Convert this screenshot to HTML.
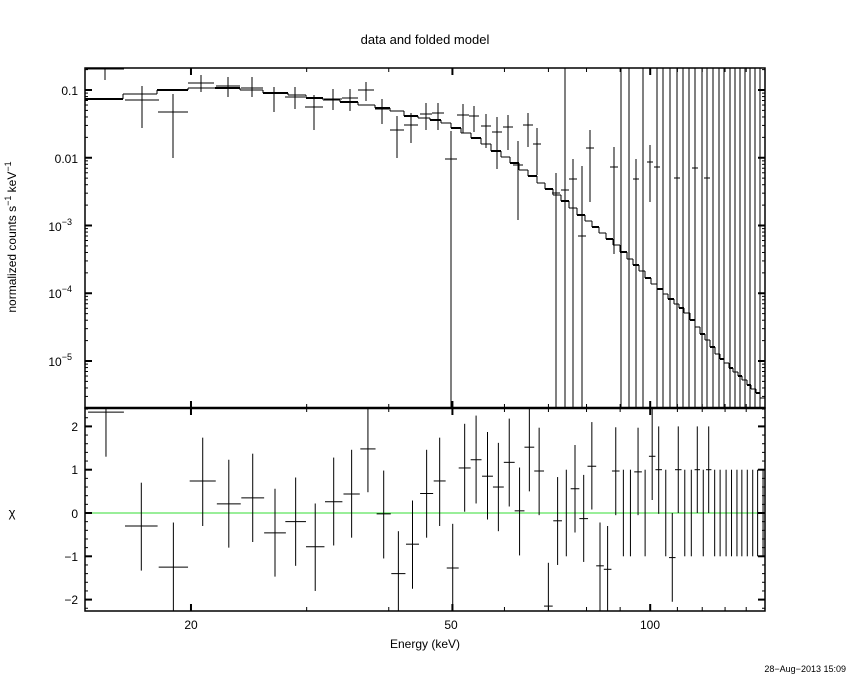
<!DOCTYPE html>
<html><head><meta charset="utf-8"><style>
html,body{margin:0;padding:0;background:#fff;}
svg{display:block;}
text{font-family:"Liberation Sans",sans-serif;fill:#000;}
</style></head><body>
<svg id="s" width="850" height="680" xmlns="http://www.w3.org/2000/svg">
<text x="425" y="44" font-size="13" text-anchor="middle" font-family="Liberation Serif">data and folded model</text>
<text x="0" y="0" font-size="12" text-anchor="middle" transform="translate(16,237) rotate(-90)">normalized counts s<tspan dy="-5" font-size="9">−1</tspan><tspan dy="5"> keV</tspan><tspan dy="-5" font-size="9">−1</tspan></text>
<text x="12" y="517" font-size="13" text-anchor="middle">χ</text>
<text x="425" y="648" font-size="12" text-anchor="middle">Energy (keV)</text>
<text x="846" y="672" font-size="9" text-anchor="end">28−Aug−2013 15:09</text>
<g font-size="12" text-anchor="end">
<text x="78" y="95">0.1</text>
<text x="78" y="163">0.01</text>
<text x="72" y="231">10<tspan dy="-6" font-size="9">−3</tspan></text>
<text x="72" y="298">10<tspan dy="-6" font-size="9">−4</tspan></text>
<text x="72" y="366">10<tspan dy="-6" font-size="9">−5</tspan></text>
<text x="78" y="431">2</text>
<text x="78" y="474">1</text>
<text x="78" y="518">0</text>
<text x="78" y="561">−1</text>
<text x="78" y="604">−2</text>
</g>
<g font-size="12" text-anchor="middle">
<text x="191" y="629">20</text>
<text x="451" y="629">50</text>
<text x="650" y="629">100</text>
</g>
<g id="g" stroke="#000" fill="none" stroke-width="1"></g>
</svg>
<script>
var g=document.getElementById('g');var o='';
function L(x1,y1,x2,y2,w,c){o+='<line x1="'+x1+'" y1="'+y1+'" x2="'+x2+'" y2="'+y2+'"'+(w?' stroke-width="'+w+'"':'')+(c?' stroke="'+c+'"':'')+'/>';}
var X0=-663.8,S=657;function xe(e){return X0+S*Math.log10(e);}
L(85,513,765,513,1,'#33dd33');
o+='<rect x="85" y="68" width="680" height="340" stroke-width="1.5"/>';
o+='<rect x="85" y="408" width="680" height="203" stroke-width="1.5"/>';
L(85,408,765,408,2.5);
for(var e=14;e<=149;e++){var maj=(e==20||e==50||e==100);var mn=(e%10==0);if(e>20&&e<100&&!mn&&e!=50)continue;if(e>100&&!mn)continue;
 var x=xe(e);if(x<86||x>764)continue;var l=(maj?7:(mn?4:0));if(!l)continue;
 L(x,68,x,68+l,maj?2:1);L(x,408,x,408-l,maj?2:1);L(x,408,x,408+l,maj?2:1);L(x,611,x,611-l,maj?2:1);}
var dec=67.75;function yl(v){return 90-dec*(Math.log10(v)+1);}
for(var p=-6;p<=-1;p++)for(var m=1;m<10;m++){var y=yl(m*Math.pow(10,p));if(y<69||y>407)continue;var l=m==1?7:3;
 L(85,y,85+l,y,m==1?2:1);L(765,y,765-l,y,m==1?2:1);}
for(var c=-2.2;c<=2.41;c+=0.2){var cc=Math.round(c*10)/10;var y=513-cc*43.3;var maj=Math.abs(cc-Math.round(cc))<0.01;var l=maj?7:3;
 L(85,y,85+l,y,maj?2:1);L(765,y,765-l,y,maj?2:1);}
var A=[[85,102],[123,95],[157,92],[188,88],[215,87],[240,88],[263,92],[285,94],[306,96],[323,99],[340,100],[358,104],[380,107],[397,111],[410,116],[428,118],[445,123],[480,140],[520,167],[560,197],[620,248],[653,283],[687,313],[720,357],[765,400]];
function my(x){for(var i=1;i<A.length;i++)if(x<=A[i][0]){var a=A[i-1],b=A[i];return a[1]+(b[1]-a[1])*(x-a[0])/(b[0]-a[0]);}return 400;}
var E=[85,123,157,188,215,240,263,288,306,323,340,358,375,390,404,418,430,441,451,461,471,481,491,501,510,519,528,537,545,553,561,569,577,585,592,599,606,613,620,627,633,639,645,651,657,663,668,674,679,684,690,695,700,705,710,715,720,724,729,733,738,742,747,751,756,760,765];
var prev=null;
for(var i=0;i<E.length-1;i++){var y=Math.round(my((E[i]+E[i+1])/2));var w=(i%2==0)?2:1;
 L(E[i],y,E[i+1],y,w);
 if(prev!==null)L(E[i],prev,E[i],y,1);
 prev=y;}
var D=[[105,69,68,80,19],[142,100,86,128,17],[173,112,94,158,15],[201,83,75,92,13],[228,86,77,97,12],[252,88,77,97,11],[274,93,87,112,11],[295,97,87,109,10],[314,107,95,130,9],[333,99,89,110,9],[350,98,89,111,8],[366,90,82,101,8],[382,109,99,124,7],[397,130,116,158,7],[411,125,113,143,7],[426,114,103,130,6],[438,113,103,130,6],[451,159,131,408,6],[463,115,104,133,6],[474,116,106,132,5],[486,126,114,148,5],[497,132,117,169,5],[508,127,115,150,5],[518,165,141,220,5],[528,125,113,147,5],[537,144,128,175,4],[556,193,173,408,4],[565,190,68,408,4],[573,179,159,408,4],[582,236,166,408,4],[590,148,130,202,4],[614,167,147,254,4],[636,179,159,408,3],[650,162,145,202,3],[657,167,68,408,3],[677,178,68,408,3],[695,168,68,408,3],[707,178,68,408,3]];
D.forEach(function(p){L(p[0],p[2],p[0],p[3]);L(p[0]-p[4],p[1],p[0]+p[4],p[1]);});
[621,629,643,663,670,683,689,702,713,719,724,730,735,740,745,750,755,760].forEach(function(x){L(x,68,x,408);});
function cy(c){return Math.max(408,Math.min(611,513-c*43.3));}
var R=[[195,2.33,1.3,2.45,33],[260,-0.3,-1.33,0.7,30],[319,-1.25,-2.3,-0.22,27],[373,0.74,-0.3,1.74,24],[421,0.21,-0.8,1.23,22],[465,0.35,-0.67,1.37,21],[506,-0.46,-1.47,0.56,20],[544,-0.2,-1.22,0.82,19],[580,-0.78,-1.8,0.22,17],[614,0.26,-0.75,1.28,16],[647,0.44,-0.57,1.46,15],[677,1.48,0.48,2.45,14],[706,-0.02,-1.05,0.98,13],[733,-1.4,-2.3,-0.42,13],[759,-0.72,-1.75,0.29,12],[785,0.45,-0.57,1.46,12],[809,0.74,-0.3,1.74,11],[833,-1.27,-2.3,-0.25,11],[855,1.04,0.03,2.06,11],[876,1.23,0.22,2.25,10],[897,0.85,-0.15,1.87,10],[917,0.6,-0.42,1.62,10],[937,1.17,0.15,2.18,10],[956,0.05,-0.98,1.05,9],[974,1.52,0.5,2.45,9],[992,0.97,-0.05,1.97,9],[1009,-2.15,-2.3,-1.15,8],[1026,-0.18,-1.2,0.83,8],[1058,0.56,-0.45,1.57,8],[1074,-0.13,-1.13,0.88,8],[1089,1.08,0.08,2.1,8],[1104,-1.22,-2.3,-0.22,7],[1118,-1.3,-2.3,-0.3,7],[1133,0.97,-0.05,1.98,7],[1174,0.95,-0.05,1.97,7],[1200,1.31,0.3,2.45,6],[1212,1.0,-0.02,2.0,6],[1237,-1.03,-2.05,0,6],[1248,1.0,0,2.0,6],[1283,1,0,2,5],[1304,1,0,2,5]];
R.forEach(function(p){var x=p[0]/1.84,h=p[4]/1.84;L(x,cy(p[2]),x,cy(p[3]));L(x-h,cy(p[1]),x+h,cy(p[1]));});
[1042,1147,1160,1187,1225,1260,1272,1294,1315,1325,1336,1346,1356,1365,1375,1385,1394,1404].forEach(function(xz){var x=xz/1.84;L(x,cy(-1),x,cy(1));});
g.innerHTML=o;
</script>
</body></html>
